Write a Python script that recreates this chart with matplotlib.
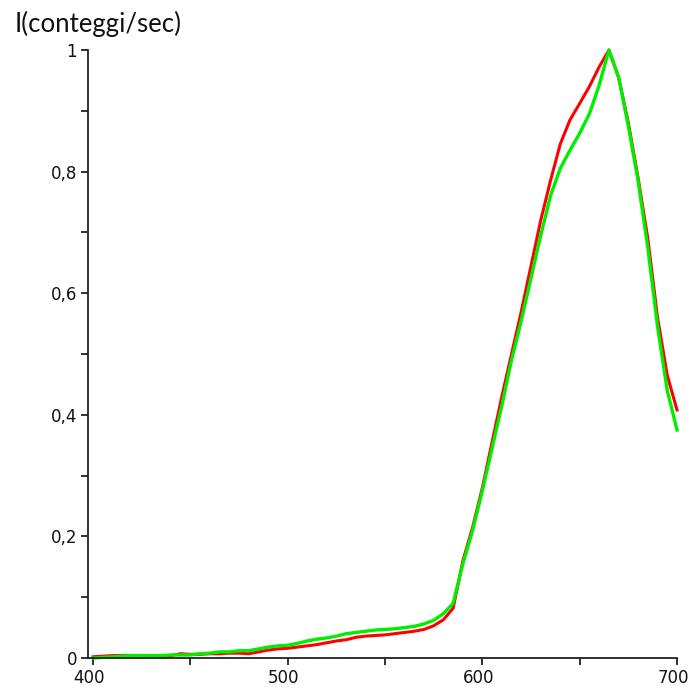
import numpy as np
import matplotlib
matplotlib.use("Agg")
from matplotlib import pyplot as plt
from matplotlib import transforms
from matplotlib.ticker import MultipleLocator, FuncFormatter

# wavelength (nm)
wavelength = [400, 405, 410, 415, 420, 425, 430, 435, 440, 445,
	450, 455, 460, 465, 470, 475, 480, 485, 490, 495,
	500, 505, 510, 515, 520, 525, 530, 535, 540, 545,
	550, 555, 560, 565, 570, 575, 580, 585, 590, 595,
	600, 605, 610, 615, 620, 625, 630, 635, 640, 645,
	650, 655, 660, 665, 670, 675, 680, 685, 690, 695, 700]

intensity_red = [0.002, 0.003, 0.004, 0.004, 0.004, 0.003, 0.003, 0.003, 0.004, 0.007,
	0.006, 0.006, 0.007, 0.007, 0.008, 0.008, 0.007, 0.010, 0.013, 0.015,
	0.016, 0.018, 0.020, 0.022, 0.025, 0.028, 0.030, 0.034, 0.036, 0.037,
	0.038, 0.040, 0.042, 0.044, 0.047, 0.053, 0.063, 0.082, 0.160, 0.215,
	0.280, 0.355, 0.430, 0.500, 0.570, 0.645, 0.720, 0.785, 0.845, 0.885,
	0.912, 0.940, 0.972, 1.000, 0.955, 0.880, 0.790, 0.690, 0.560, 0.465, 0.408]

intensity_green = [0.000, 0.001, 0.002, 0.003, 0.004, 0.004, 0.004, 0.004, 0.005, 0.005,
	0.005, 0.007, 0.008, 0.010, 0.010, 0.012, 0.012, 0.015, 0.018, 0.020,
	0.021, 0.024, 0.028, 0.031, 0.033, 0.036, 0.040, 0.042, 0.044, 0.046,
	0.047, 0.048, 0.050, 0.052, 0.056, 0.062, 0.073, 0.090, 0.155, 0.210,
	0.275, 0.345, 0.415, 0.490, 0.555, 0.625, 0.695, 0.760, 0.805, 0.835,
	0.863, 0.895, 0.942, 1.000, 0.955, 0.875, 0.785, 0.675, 0.545, 0.440, 0.375]

W, H = 691, 694
fig = plt.figure(figsize=(W / 100, H / 100), dpi=100)
ax = fig.add_axes([88 / W, (H - 658) / H, (677 - 88) / W, (658 - 50) / H])

ax.plot(wavelength, intensity_red, color="#ff0000", lw=2.2, clip_on=False)
ax.plot(wavelength, intensity_green, color="#00ee00", lw=2.4, clip_on=False)

ax.set_xlim(397.4, 700)
ax.set_ylim(0, 1)

for s in ("top", "right"):
	ax.spines[s].set_visible(False)
for s in ("left", "bottom"):
	ax.spines[s].set_linewidth(1.3)
	ax.spines[s].set_color("#222222")

ax.xaxis.set_major_locator(MultipleLocator(50))
ax.yaxis.set_major_locator(MultipleLocator(0.1))

def xfmt(v, pos):
	return "%d" % round(v) if round(v) % 100 == 0 else ""

def yfmt(v, pos):
	k = int(round(v * 10))
	if k % 2:
		return ""
	if k == 0:
		return "0"
	if k == 10:
		return "1"
	return ("%.1f" % v).replace(".", ",")

ax.xaxis.set_major_formatter(FuncFormatter(xfmt))
ax.yaxis.set_major_formatter(FuncFormatter(yfmt))
ax.tick_params(direction="out", length=5, width=1.3, color="#222222", pad=3,
	labelsize=12, labelcolor="#111111")
shift = transforms.ScaledTranslation(-4 / 100, 0, fig.dpi_scale_trans)
for lab in ax.get_xticklabels():
	lab.set_transform(lab.get_transform() + shift)
for lab in ax.get_xticklabels() + ax.get_yticklabels():
	lab.set_family(["Liberation Sans Narrow", "DejaVu Sans"])

fig.text(15 / W, (H - 32) / H, "I(conteggi/sec)", family=["Lato", "DejaVu Sans"],
	fontsize=18.5, color="#111111", va="baseline", ha="left")

plt.savefig("out.png", dpi=100)
